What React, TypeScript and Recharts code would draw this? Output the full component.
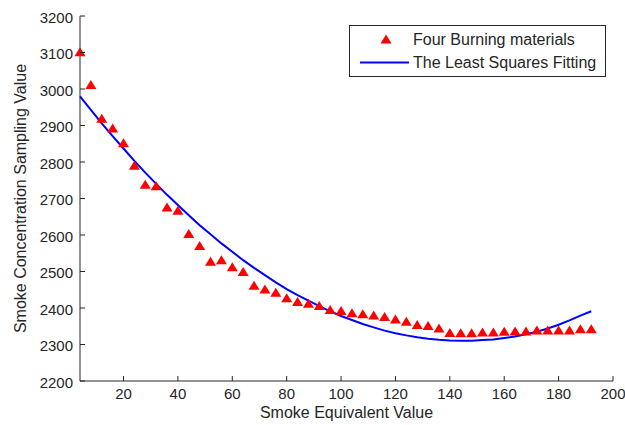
import React from 'react';
import { ComposedChart, Scatter, Line, XAxis, YAxis, Legend, Label } from 'recharts';

const xValues = [4, 8, 12, 16, 20, 24, 28, 32, 36, 40, 44, 48, 52, 56, 60, 64, 68, 72, 76, 80, 84, 88, 92, 96, 100, 104, 108, 112, 116, 120, 124, 128, 132, 136, 140, 144, 148, 152, 156, 160, 164, 168, 172, 176, 180, 184, 188, 192];
const measured = [3102, 3012, 2920, 2893, 2853, 2791, 2739, 2735, 2677, 2668, 2604, 2571, 2528, 2532, 2513, 2500, 2462, 2452, 2443, 2428, 2418, 2413, 2407, 2396, 2393, 2387, 2384, 2381, 2377, 2370, 2364, 2355, 2352, 2345, 2333, 2332, 2332, 2334, 2334, 2336, 2337, 2337, 2340, 2340, 2340, 2340, 2343, 2343];
const fitted = [2980, 2943, 2906, 2871, 2837, 2803, 2771, 2740, 2710, 2682, 2654, 2627, 2602, 2577, 2554, 2531, 2510, 2490, 2470, 2452, 2435, 2420, 2405, 2391, 2378, 2367, 2356, 2347, 2338, 2331, 2325, 2320, 2316, 2313, 2311, 2310, 2310, 2312, 2314, 2318, 2322, 2328, 2335, 2344, 2354, 2366, 2379, 2391];
const xTicks = [20, 40, 60, 80, 100, 120, 140, 160, 180, 200];
const yTicks = [2200, 2300, 2400, 2500, 2600, 2700, 2800, 2900, 3000, 3100, 3200];

const data = xValues.map((x, i) => ({ x, y: measured[i], fit: fitted[i] }));

const FONT = '"Liberation Sans", Arial, sans-serif';
const INK = '#262626';

const XTick = (props: any) => {
  const { x, y, payload } = props;
  return (
    <g>
      <line x1={x} y1={y} x2={x} y2={y - 5} stroke={INK} strokeWidth={1} />
      <text x={x} y={y + 18} textAnchor="middle" fontSize={15} fontFamily={FONT} fill={INK}>
        {payload.value}
      </text>
    </g>
  );
};

const YTick = (props: any) => {
  const { x, y, payload } = props;
  return (
    <g>
      <line x1={x} y1={y} x2={x + 5} y2={y} stroke={INK} strokeWidth={1} />
      <text x={x - 7} y={y + 6.6} textAnchor="end" fontSize={15} fontFamily={FONT} fill={INK}>
        {payload.value}
      </text>
    </g>
  );
};

const Triangle = (props: any) => {
  const { cx, cy } = props;
  if (cx == null || cy == null) return null;
  return <polygon points={`${cx},${cy - 4.5} ${cx - 5.5},${cy + 4.5} ${cx + 5.5},${cy + 4.5}`} fill="#ff0000" />;
};

const renderLegend = () => (
  <div
    style={{
      width: 257,
      height: 52,
      boxSizing: 'border-box',
      border: `1px solid ${INK}`,
      background: '#fff',
      position: 'relative',
      fontFamily: FONT,
      fontSize: 16,
      color: INK,
    }}
  >
    <svg width={60} height={50} style={{ position: 'absolute', left: 0, top: 0 }}>
      <polygon points="36,8.5 30.5,17.5 41.5,17.5" fill="#ff0000" />
      <line x1={10} y1={36.5} x2={59} y2={36.5} stroke="#0000ff" strokeWidth={2} />
    </svg>
    <div style={{ position: 'absolute', left: 63, top: 4, lineHeight: '20px', whiteSpace: 'nowrap' }}>Four Burning materials</div>
    <div style={{ position: 'absolute', left: 63, top: 27, lineHeight: '20px', whiteSpace: 'nowrap' }}>The Least Squares Fitting</div>
  </div>
);

export default function App() {
  return (
    <div style={{ position: 'absolute', left: 0, top: 0, width: 625, height: 425, background: '#fff' }}>
      <ComposedChart width={625} height={425} data={data} margin={{ top: 16, right: 12, bottom: 0, left: 0 }}>
        <XAxis
          dataKey="x"
          type="number"
          domain={[4, 200]}
          ticks={xTicks}
          interval={0}
          height={44}
          tickSize={0}
          tickMargin={0}
          tickLine={false}
          axisLine={{ stroke: INK }}
          tick={<XTick />}
        >
          <Label
            value="Smoke Equivalent Value"
            position="insideBottom"
            offset={7}
            style={{ fontSize: 16, fontFamily: FONT, fill: INK }}
          />
        </XAxis>
        <YAxis
          type="number"
          domain={[2200, 3200]}
          ticks={yTicks}
          interval={0}
          width={80}
          tickSize={0}
          tickMargin={0}
          tickLine={false}
          axisLine={{ stroke: INK }}
          tick={<YTick />}
        >
          <Label
            content={(props: any) => {
              const vb = props.viewBox || { x: 0, y: 16, width: 80, height: 365 };
              const cx = 20;
              const cy = vb.y + vb.height / 2;
              return (
                <text
                  x={cx}
                  y={cy}
                  transform={`rotate(-90, ${cx}, ${cy})`}
                  textAnchor="middle"
                  dominantBaseline="central"
                  fontSize={16}
                  fontFamily={FONT}
                  fill={INK}
                >
                  Smoke Concentration Sampling Value
                </text>
              );
            }}
          />
        </YAxis>
        <Scatter dataKey="y" shape={<Triangle />} isAnimationActive={false} />
        <Line dataKey="fit" type="linear" stroke="#0000ff" strokeWidth={2} dot={false} isAnimationActive={false} />
        <Legend
          layout="vertical"
          align="center"
          verticalAlign="middle"
          content={renderLegend}
          wrapperStyle={{ position: 'absolute', left: 349, top: 25, width: 257, height: 52 }}
        />
      </ComposedChart>
    </div>
  );
}
